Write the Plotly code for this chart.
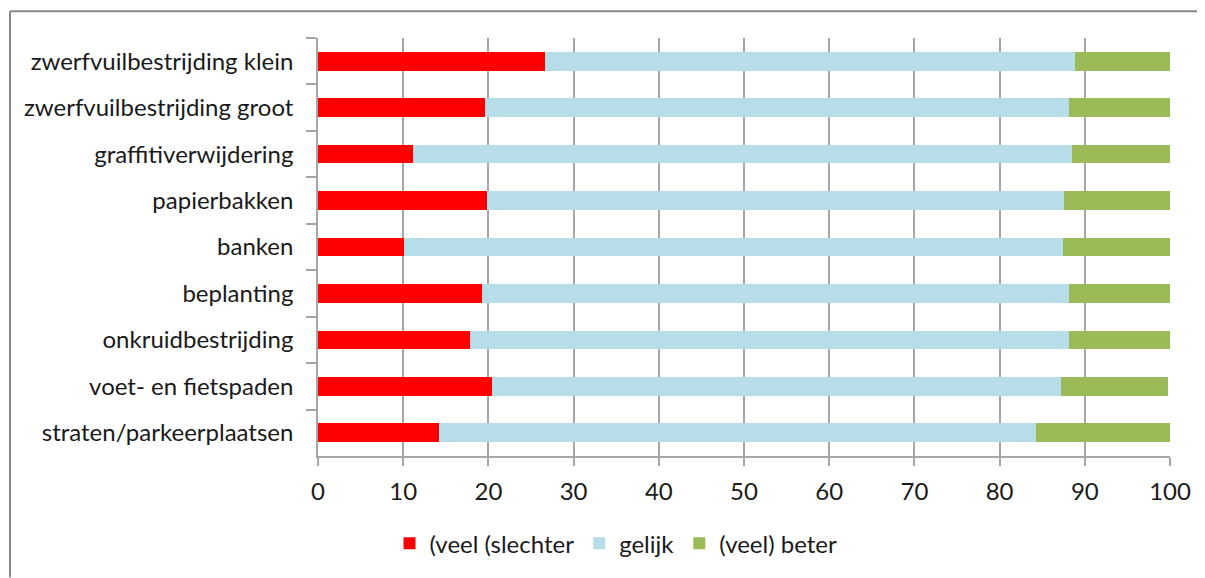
import plotly.graph_objects as go

categories = [
    "zwerfvuilbestrijding klein",
    "zwerfvuilbestrijding groot",
    "graffitiverwijdering",
    "papierbakken",
    "banken",
    "beplanting",
    "onkruidbestrijding",
    "voet- en fietspaden",
    "straten/parkeerplaatsen",
]
slechter = [26.6, 19.6, 11.1, 19.8, 10.1, 19.2, 17.8, 20.4, 14.2]
gelijk = [62.2, 68.6, 77.4, 67.7, 77.3, 69.0, 70.4, 66.8, 70.1]
beter = [11.2, 11.8, 11.5, 12.5, 12.6, 11.8, 11.8, 12.6, 15.7]
series_names = ["(veel (slechter", "gelijk", "(veel) beter"]
x_ticks = [0, 10, 20, 30, 40, 50, 60, 70, 80, 90, 100]

colors = ["#FF0000", "#B7DEE8", "#9BBB59"]
FONT = "Lato"

fig = go.Figure()
for name, vals, col in zip(series_names, [slechter, gelijk, beter], colors):
    fig.add_trace(go.Bar(
        y=categories, x=vals, name=name, orientation="h",
        marker=dict(color=col, line=dict(width=0)), width=0.4,
    ))

OFF = 8  # page offset (body margin)
W, H = 1205 - OFF, 578 - OFF
ml, mr, mt, mb = 318 - OFF, 35, 38 - OFF, 120
pw, ph = W - ml - mr, H - mt - mb

def px_x(p):
    return (p - OFF - ml) / pw

def px_y(p):
    return 1 - (p - OFF - mt) / ph

fig.update_layout(
    width=W, height=H,
    margin=dict(l=ml, r=mr, t=mt, b=mb, pad=0),
    barmode="stack",
    plot_bgcolor="white", paper_bgcolor="white",
    font=dict(family=FONT, size=24, color="#1a1a1a"),
    showlegend=True,
    legend=dict(orientation="h", x=px_x(616), xanchor="center",
                y=px_y(546), yanchor="middle",
                font=dict(size=24), itemwidth=30, traceorder="normal",
                bgcolor="rgba(0,0,0,0)"),
    xaxis=dict(range=[0, 100], tickvals=x_ticks, showgrid=True,
               gridcolor="#A6A6A6", gridwidth=1.5,
               showline=True, linecolor="#A6A6A6", linewidth=1.5,
               ticks="outside", ticklen=8, tickcolor="#A6A6A6", tickwidth=1.5,
               zeroline=False, fixedrange=True, ticklabelstandoff=5),
    yaxis=dict(categoryorder="array", categoryarray=categories,
               autorange="reversed", showgrid=False,
               showline=True, linecolor="#A6A6A6", linewidth=1.5,
               ticks="outside", ticklen=10, tickcolor="#A6A6A6", tickwidth=1.5,
               tickson="boundaries", ticklabelstandoff=18, fixedrange=True),
    shapes=[
        dict(type="line", xref="paper", yref="paper",
             x0=px_x(10), x1=px_x(10), y0=px_y(580), y1=px_y(11),
             line=dict(color="#888888", width=2)),
        dict(type="line", xref="paper", yref="paper",
             x0=px_x(10), x1=px_x(1207), y0=px_y(11), y1=px_y(11),
             line=dict(color="#888888", width=2)),
    ],
)

fig.write_html("out.html")
